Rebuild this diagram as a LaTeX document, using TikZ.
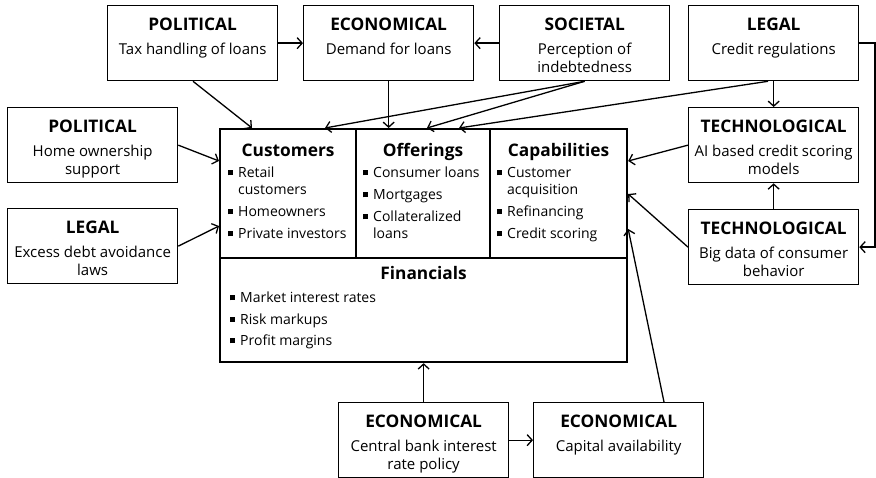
\documentclass[tikz,border=0pt]{standalone}
\usepackage{fontspec}
\setmainfont{Open Sans}
\usetikzlibrary{arrows.meta,calc}

% square bullet and the matching indent for continuation lines
\newcommand\blt{\makebox[10pt][l]{\rule[2.5pt]{5pt}{5pt}}}
\newcommand\cnt{\hspace*{10pt}}
\newcommand\bodyfont{\fontsize{15}{18}\selectfont}
\newcommand\listfont{\fontsize{14}{17}\selectfont}
\newcommand\headfont{\fontsize{17.3}{20}\selectfont\bfseries}

\tikzset{
  envbox/.style={draw, line width=1.3pt, minimum width=170pt, minimum height=75pt,
                 anchor=north west, inner sep=0pt},
  part/.style={draw, line width=2.2pt, anchor=north west, inner sep=0pt},
  head/.style={font=\headfont, inner sep=0pt, anchor=base},
  body/.style={font=\bodyfont, inner sep=0pt, anchor=base},
  items/.style={font=\listfont, inner sep=0pt, anchor=base west},
  arr/.style={line width=1.3pt, -{Straight Barb[length=5pt,width=11pt]}},
}

% environment factor box: name, left, top, heading, lines of text
\newcommand\envnode[5]{%
  \node[envbox] (#1) at (#2,#3) {};
  \node[head] (#1-h) at ([yshift=-26pt]#1.north) {#4};
  \node[body] (#1-b) at ([yshift=-49.5pt]#1.north) {\begin{tabular}[t]{@{}c@{}}#5\end{tabular}};
}

\begin{document}
\begin{tikzpicture}[x=1pt, y=-1pt]
\useasboundingbox (0,0) rectangle (876,478);

% factor boxes
\envnode{pol1}{107}{5}{POLITICAL}{Tax handling of loans}
\envnode{eco1}{303}{5}{ECONOMICAL}{Demand for loans}
\envnode{soc}{499}{5}{SOCIETAL}{Perception of\\indebtedness}
\envnode{leg1}{688}{5}{LEGAL}{Credit regulations}
\envnode{pol2}{7}{107}{POLITICAL}{Home ownership\\support}
\envnode{leg2}{7}{208}{LEGAL}{Excess debt avoidance\\laws}
\envnode{tech1}{688}{107}{TECHNOLOGICAL}{AI based credit scoring\\models}
\envnode{tech2}{688}{209}{TECHNOLOGICAL}{Big data of consumer\\behavior}
\envnode{eco2}{338}{402}{ECONOMICAL}{Central bank interest\\rate policy}
\envnode{eco3}{533}{402}{ECONOMICAL}{Capital availability}

% business model parts
\node[part, minimum width=136pt, minimum height=129pt] (cust) at (219,128) {};
\node[part, minimum width=134pt, minimum height=129pt] (offer) at (355,128) {};
\node[part, minimum width=137pt, minimum height=129pt] (capab) at (489,128) {};
\node[part, minimum width=407pt, minimum height=104pt] (fin) at (219,257) {};

\node[head] (cust-h) at ([yshift=-29pt]cust.north) {Customers};
\node[head] (offer-h) at ([yshift=-29pt]offer.north) {Offerings};
\node[head] (capab-h) at ([yshift=-29pt]capab.north) {Capabilities};
\node[head] (fin-h) at ([yshift=-23pt]fin.north) {Financials};

\node[items] (cust-l) at ([xshift=9pt,yshift=-50pt]cust.north west)
  {\begin{tabular}[t]{@{}l@{}}\blt Retail\\ \cnt customers\\[5pt] \blt Homeowners\\[5pt] \blt Private investors\end{tabular}};
\node[items] (offer-l) at ([xshift=8pt,yshift=-50pt]offer.north west)
  {\begin{tabular}[t]{@{}l@{}}\blt Consumer loans\\[5pt] \blt Mortgages\\[5pt] \blt Collateralized\\ \cnt loans\end{tabular}};
\node[items] (capab-l) at ([xshift=8pt,yshift=-50pt]capab.north west)
  {\begin{tabular}[t]{@{}l@{}}\blt Customer\\ \cnt acquisition\\[5pt] \blt Refinancing\\[5pt] \blt Credit scoring\end{tabular}};
\node[items] (fin-l) at ([xshift=11pt,yshift=-46pt]fin.north west)
  {\begin{tabular}[t]{@{}l@{}}\blt Market interest rates\\[4.5pt] \blt Risk markups\\[4.5pt] \blt Profit margins\end{tabular}};

% right-hand return line
\coordinate (rt) at (875,0);

% connectors
\draw[arr] (pol1.east) -- (eco1.west);
\draw[arr] (soc.west) -- (eco1.east);
\draw[arr] ([xshift=86pt]pol1.south west) -- ([xshift=33pt]cust.north west);
\draw[arr] (eco1.south) -- (eco1.south |- offer.north);
\draw[arr] (soc.south) -- ([xshift=106pt]cust.north west);
\draw[arr] (soc.south) -- ([xshift=72pt]offer.north west);
\draw[arr] ([xshift=80pt]leg1.south west) -- ([xshift=104pt]offer.north west);
\draw[arr] (leg1.south) -- (tech1.north);
\draw[arr] (pol2.east) -- ([yshift=-33pt]cust.north west);
\draw[arr] (leg2.east) -- ([yshift=-98pt]cust.north west);
\draw[arr] (tech1.west) -- ([yshift=-33pt]capab.north east);
\draw[arr] (tech2.west) -- ([yshift=-66pt]capab.north east);
\draw[arr] (tech2.north) -- (tech1.south);
\draw[arr] (leg1.east) -- (leg1.east -| rt) -- (tech2.east -| rt) -- (tech2.east);
\draw[arr] (eco2.north) -- (eco2.north |- fin.south);
\draw[arr] (eco2.east) -- (eco3.west);
\draw[arr] ([xshift=131pt]eco3.north west) -- ([yshift=-101pt]capab.north east);
\end{tikzpicture}
\end{document}
